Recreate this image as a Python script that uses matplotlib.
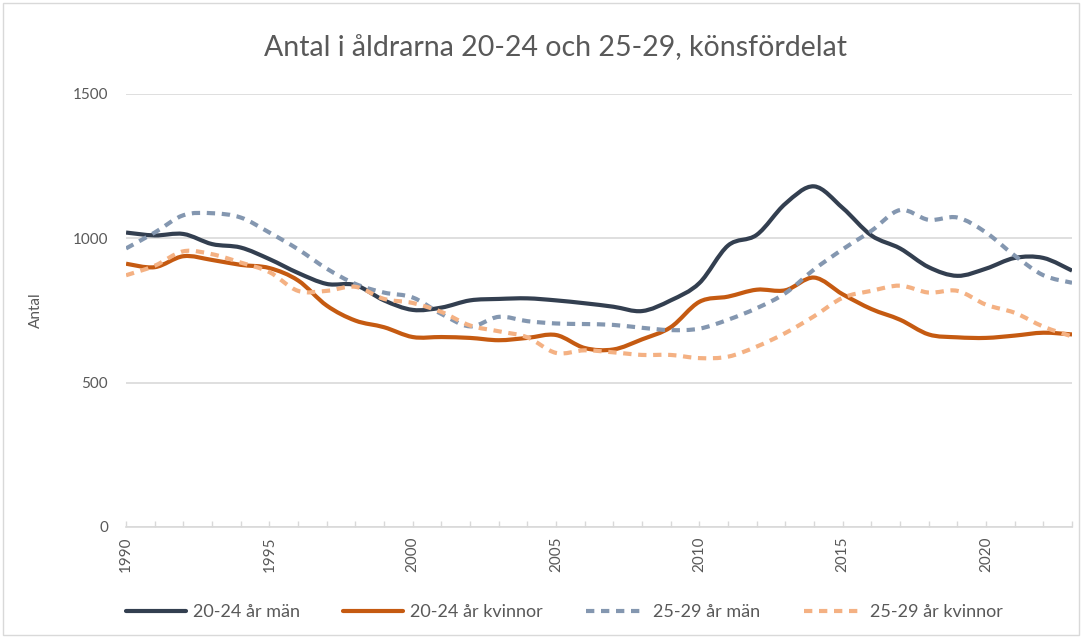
import matplotlib
matplotlib.use("Agg")
import matplotlib.pyplot as plt
from matplotlib.path import Path
from matplotlib.patches import PathPatch, Rectangle
from matplotlib.lines import Line2D
import numpy as np

plt.rcParams['font.family'] = ['Lato', 'DejaVu Sans']

years = list(range(1990, 2024))
man_20_24 = [1020, 1010, 1015, 980, 968, 928, 880, 842, 838, 785, 752, 760,
             785, 790, 792, 785, 775, 763, 748, 785, 845, 975, 1012, 1120,
             1180, 1105, 1010, 965, 900, 870, 895, 932, 932, 888]
kvinnor_20_24 = [912, 900, 938, 925, 908, 897, 854, 767, 715, 692, 658, 658,
                 655, 647, 655, 665, 620, 615, 650, 692, 780, 798, 822, 820,
                 864, 806, 755, 718, 667, 657, 655, 663, 673, 667]
man_25_29 = [965, 1020, 1080, 1087, 1072, 1020, 962, 895, 842, 812, 795, 738,
             695, 728, 713, 705, 703, 700, 690, 682, 687, 718, 758, 810,
             892, 962, 1026, 1098, 1064, 1072, 1020, 940, 872, 846]
kvinnor_25_29 = [872, 905, 955, 945, 916, 883, 818, 818, 832, 790, 776, 745,
                 698, 678, 657, 603, 612, 605, 596, 596, 585, 590, 625, 672,
                 730, 794, 818, 836, 812, 818, 770, 742, 694, 660]

series = [
    ("20-24 år män", man_20_24, "#333F50", "-"),
    ("20-24 år kvinnor", kvinnor_20_24, "#C55A11", "-"),
    ("25-29 år män", man_25_29, "#8497B0", "--"),
    ("25-29 år kvinnor", kvinnor_25_29, "#F4B183", "--"),
]
grey = "#595959"


def smooth_path(x, y):
    """Excel style smoothed line as cubic bezier segments"""
    pts = np.column_stack([x, y]).astype(float)
    n = len(pts)
    verts = [pts[0]]
    codes = [Path.MOVETO]
    for i in range(n - 1):
        p0 = pts[max(i - 1, 0)]
        p1 = pts[i]
        p2 = pts[i + 1]
        p3 = pts[min(i + 2, n - 1)]
        c1 = p1 + (p2 - p0) / 6.0
        c2 = p2 - (p3 - p1) / 6.0
        verts += [c1, c2, p2]
        codes += [Path.CURVE4] * 3
    return Path(verts, codes)


fig = plt.figure(figsize=(10.82, 6.38), dpi=100)
fig.patches.append(Rectangle((0.003, 0.004), 0.994, 0.992, transform=fig.transFigure,
                             fill=False, edgecolor="#D9D9D9", linewidth=1))
ax = fig.add_axes([0.1165, 0.174, 0.8743, 0.6787])

handles = []
for label, vals, clr, ls in series:
    path = smooth_path(years, vals)
    dashes = (0, (2.0, 1.6)) if ls == "--" else "-"
    ax.add_patch(PathPatch(path, fill=False, edgecolor=clr, linewidth=3,
                           linestyle=dashes, capstyle="butt", joinstyle="round"))
    handles.append(Line2D([], [], color=clr, linewidth=3,
                          linestyle=dashes if ls == "--" else "-",
                          solid_capstyle="round", dash_capstyle="butt", label=label))

ax.set_xlim(1990, 2023)
ax.set_ylim(0, 1500)
ax.set_yticks([0, 500, 1000, 1500])
ax.set_xticks(range(1990, 2024, 5))
ax.set_xticks(years, minor=True)
ax.grid(axis="y", color="#D9D9D9", linewidth=1.2)
ax.set_axisbelow(True)
for s in ["top", "right", "left"]:
    ax.spines[s].set_visible(False)
ax.spines["bottom"].set_color("#D9D9D9")
ax.spines["bottom"].set_linewidth(1.2)
ax.tick_params(axis="y", length=0, pad=13, labelsize=11, labelcolor=grey)
ax.tick_params(axis="x", which="both", direction="in", length=4, color="#D9D9D9",
               width=1, labelsize=11, labelcolor=grey, labelrotation=90, pad=7)
ax.set_ylabel("Antal", fontsize=11, color=grey, labelpad=21)

fig.text(0.513, 0.925, "Antal i åldrarna 20-24 och 25-29, könsfördelat",
         ha="center", va="center", fontsize=20.5, color=grey)

fig.legend(handles=handles, loc="center", bbox_to_anchor=(0.522, 0.041), ncol=4,
           frameon=False, fontsize=13, labelcolor=grey, handlelength=3.3,
           handletextpad=0.4, columnspacing=2.4)

fig.savefig("out.png", dpi=100)
